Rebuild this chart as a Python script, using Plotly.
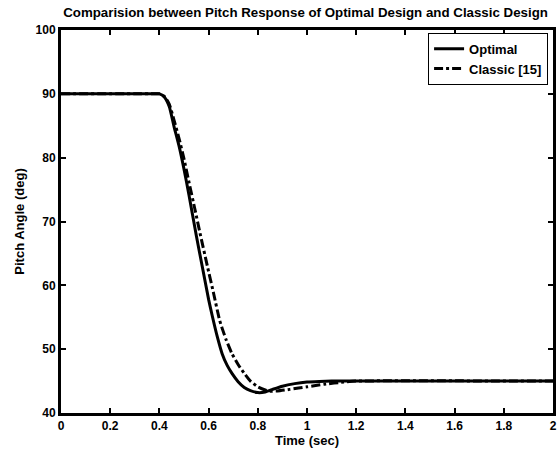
import plotly.graph_objects as go

# Time (sec) and pitch angle (deg)
t_opt = [0, 0.30, 0.38, 0.40, 0.42, 0.44, 0.46, 0.48, 0.50, 0.52, 0.55, 0.575, 0.60, 0.615, 0.635,
         0.655, 0.675, 0.695, 0.72, 0.745, 0.77, 0.80, 0.83, 0.86, 0.90, 0.95, 1.00,
         1.05, 1.10, 1.20, 2.0]
y_opt = [90, 90, 90, 90, 89.5, 88.0, 84.8, 81.8, 78.2, 74.2, 67.8, 62.8, 57.8, 55.2, 52.0,
         49.3, 47.5, 46.2, 44.9, 44.0, 43.5, 43.2, 43.3, 43.7, 44.2, 44.6, 44.85,
         44.95, 45.0, 45.0, 45.0]

t_cls = [0, 0.30, 0.38, 0.40, 0.42, 0.44, 0.46, 0.48, 0.50, 0.52, 0.545, 0.565, 0.595, 0.62, 0.645,
         0.67, 0.695, 0.72, 0.745, 0.77, 0.80, 0.83, 0.85, 0.88, 0.93, 1.00, 1.07,
         1.15, 1.20, 2.0]
y_cls = [90, 90, 90, 90, 89.6, 88.4, 85.8, 83.0, 79.8, 76.2, 71.8, 68.2, 63.0, 58.8, 54.5,
         51.6, 49.3, 47.6, 46.2, 45.0, 44.1, 43.6, 43.4, 43.45, 43.7, 44.1, 44.5,
         44.85, 45.0, 45.0]

x_ticks = [0, 0.2, 0.4, 0.6, 0.8, 1, 1.2, 1.4, 1.6, 1.8, 2]
x_tick_labels = ["0", "0.2", "0.4", "0.6", "0.8", "1", "1.2", "1.4", "1.6", "1.8", "2"]
y_ticks = [40, 50, 60, 70, 80, 90, 100]

FONT = "Liberation Sans, Arial, sans-serif"

fig = go.Figure()
fig.add_trace(go.Scatter(x=t_opt, y=y_opt, mode="lines", name="Optimal",
                         line=dict(color="black", width=3, shape="spline", smoothing=0.5)))
fig.add_trace(go.Scatter(x=t_cls, y=y_cls, mode="lines", name="Classic [15]",
                         line=dict(color="black", width=3, dash="dashdot",
                                   shape="spline", smoothing=0.5)))

axis_common = dict(showline=True, linewidth=3, linecolor="black", mirror="ticks",
                   ticks="inside", ticklen=5, tickwidth=2, tickcolor="black",
                   showgrid=False, zeroline=False, automargin=False,
                   tickfont=dict(family=FONT, size=12, color="black", weight="bold"))

fig.update_layout(
    width=559, height=449,
    margin=dict(l=61, r=6, t=30, b=36, autoexpand=False),
    paper_bgcolor="white", plot_bgcolor="white",
    font=dict(family=FONT, size=12, color="black", weight="bold"),
    title=dict(text="Comparision between Pitch Response of Optimal Design and Classic Design",
               x=0.497, xanchor="center", xref="paper", yref="container",
               y=0.973, yanchor="middle", automargin=False,
               font=dict(family=FONT, size=13.3, color="black", weight="bold")),
    xaxis=dict(range=[0, 2], tickvals=x_ticks, ticktext=x_tick_labels,
               title=dict(text="Time (sec)", standoff=0,
                          font=dict(family=FONT, size=13, color="black", weight="bold")),
               **axis_common),
    yaxis=dict(range=[40, 100], tickvals=y_ticks,
               title=dict(text="Pitch Angle (deg)", standoff=9,
                          font=dict(family=FONT, size=13, color="black", weight="bold")),
               **axis_common),
    legend=dict(x=0.99, y=0.993, xanchor="right", yanchor="top",
                bgcolor="white", bordercolor="black", borderwidth=1,
                font=dict(family=FONT, size=13, color="black", weight="bold"),
                tracegroupgap=0, itemwidth=30),
    showlegend=True,
)

fig.write_html("out.html", config={"displayModeBar": False},
               post_script="document.body.style.margin='0px';")
